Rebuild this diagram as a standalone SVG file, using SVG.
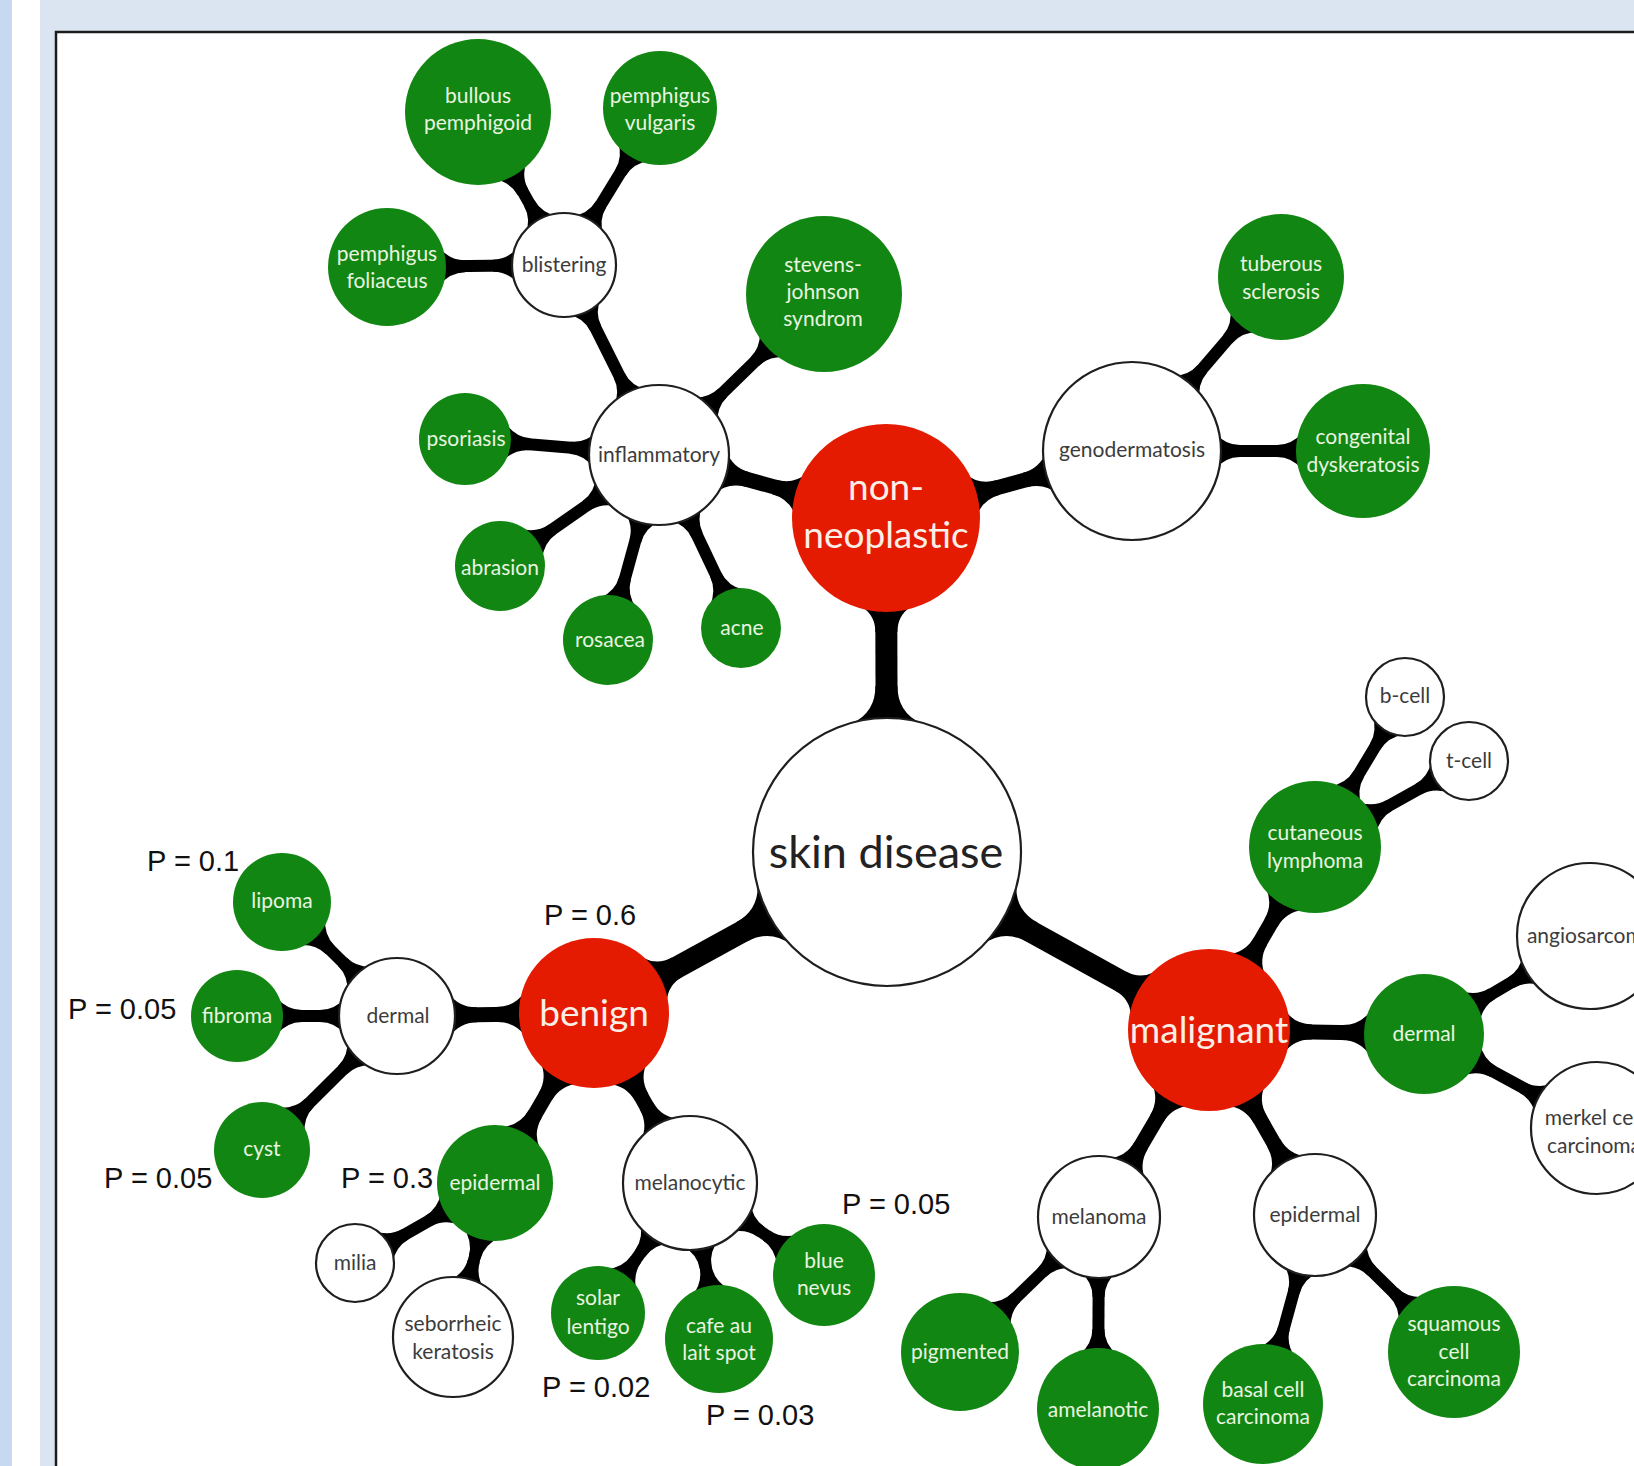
<svg xmlns="http://www.w3.org/2000/svg" width="1634" height="1466" viewBox="0 0 1634 1466">
<defs>
<style>
.w{fill:#fff;stroke:#1e1e1e;stroke-width:2.2}
.g{fill:#128612}
.r{fill:#e41b00}
.l1{stroke:#000;stroke-width:22}
.l2{stroke:#000;stroke-width:15}
.l3{stroke:#000;stroke-width:12}
text{font-family:Lato,"Open Sans",sans-serif;text-anchor:middle}
.tw{font-size:21px;fill:#3c3c3c}
.tg{font-size:21px;fill:#e8f5e0}
.tr{font-size:37px;fill:#fbeee6}
.ts{font-size:45px;fill:#222}
.p{font-family:"Liberation Sans",Arial,sans-serif;font-size:29px;fill:#111;text-anchor:start}
</style>
<path id="fS" fill="#000" d="M-24,-34 L-5,-34 Q6,-11 32,-11 L32,11 Q6,11 -5,34 L-24,34Z"/>
<path id="fR" fill="#000" d="M-22,-24 L-5,-24 Q4,-11 20,-11 L20,11 Q4,11 -5,24 L-22,24Z"/>
<path id="f2" fill="#000" d="M-20,-22 L-6,-22 Q4,-7.5 22,-7.5 L22,7.5 Q4,7.5 -6,22 L-20,22Z"/>
<path id="f3" fill="#000" d="M-20,-19 L-7,-19 Q4,-6 19,-6 L19,6 Q4,6 -7,19 L-20,19Z"/>
</defs>

<rect x="0" y="0" width="1634" height="1466" fill="#dbe5f1"/>
<rect x="0" y="0" width="12" height="1466" fill="#c6d9f0"/>
<rect x="12" y="0" width="28" height="1466" fill="#ffffff"/>
<rect x="56" y="32" width="1640" height="1500" fill="#ffffff" stroke="#1c1c1c" stroke-width="2.5"/>

<g id="connectors">
<line class="l1" x1="887" y1="852" x2="886" y2="518"/>
<line class="l1" x1="887" y1="852" x2="594" y2="1013"/>
<line class="l1" x1="887" y1="852" x2="1209" y2="1030"/>
<line class="l2" x1="886" y1="518" x2="659" y2="455"/>
<line class="l2" x1="886" y1="518" x2="1132" y2="451"/>
<line class="l2" x1="594" y1="1013" x2="397" y2="1016"/>
<line class="l2" x1="594" y1="1013" x2="495" y2="1183"/>
<line class="l2" x1="594" y1="1013" x2="690" y2="1183"/>
<line class="l2" x1="1209" y1="1030" x2="1315" y2="847"/>
<line class="l2" x1="1209" y1="1030" x2="1424" y2="1034"/>
<line class="l2" x1="1209" y1="1030" x2="1099" y2="1217"/>
<line class="l2" x1="1209" y1="1030" x2="1315" y2="1215"/>
<line class="l3" x1="659" y1="455" x2="564" y2="265"/>
<line class="l3" x1="659" y1="455" x2="824" y2="294"/>
<line class="l3" x1="659" y1="455" x2="465" y2="439"/>
<line class="l3" x1="659" y1="455" x2="500" y2="566"/>
<line class="l3" x1="659" y1="455" x2="608" y2="640"/>
<line class="l3" x1="659" y1="455" x2="741" y2="628"/>
<line class="l3" x1="564" y1="265" x2="478" y2="112"/>
<line class="l3" x1="564" y1="265" x2="660" y2="108"/>
<line class="l3" x1="564" y1="265" x2="387" y2="267"/>
<line class="l3" x1="1132" y1="451" x2="1281" y2="277"/>
<line class="l3" x1="1132" y1="451" x2="1363" y2="451"/>
<line class="l3" x1="1315" y1="847" x2="1405" y2="697"/>
<line class="l3" x1="1315" y1="847" x2="1469" y2="761"/>
<line class="l3" x1="1424" y1="1034" x2="1590" y2="936"/>
<line class="l3" x1="1424" y1="1034" x2="1597" y2="1128"/>
<line class="l3" x1="1099" y1="1217" x2="960" y2="1352"/>
<line class="l3" x1="1099" y1="1217" x2="1098" y2="1409"/>
<line class="l3" x1="1315" y1="1215" x2="1263" y2="1404"/>
<line class="l3" x1="1315" y1="1215" x2="1454" y2="1352"/>
<line class="l3" x1="397" y1="1016" x2="282" y2="902"/>
<line class="l3" x1="397" y1="1016" x2="237" y2="1016"/>
<line class="l3" x1="397" y1="1016" x2="262" y2="1150"/>
<line class="l3" x1="495" y1="1183" x2="355" y2="1263"/>
<line class="l3" x1="495" y1="1183" x2="453" y2="1337"/>
<line class="l3" x1="690" y1="1183" x2="598" y2="1313"/>
<line class="l3" x1="690" y1="1183" x2="719" y2="1339"/>
<line class="l3" x1="690" y1="1183" x2="824" y2="1275"/>

<use href="#fS" transform="translate(887,852) rotate(-90.2) translate(134,0)"/>
<use href="#fR" transform="translate(886,518) rotate(89.8) translate(94,0)"/>
<use href="#fS" transform="translate(887,852) rotate(151.2) translate(134,0)"/>
<use href="#fR" transform="translate(594,1013) rotate(-28.8) translate(75,0)"/>
<use href="#fS" transform="translate(887,852) rotate(28.9) translate(134,0)"/>
<use href="#fR" transform="translate(1209,1030) rotate(-151.1) translate(81,0)"/>

<use href="#f2" transform="translate(886,518) rotate(-164.5) translate(94,0)"/>
<use href="#f2" transform="translate(659,455) rotate(15.5) translate(70,0)"/>
<use href="#f2" transform="translate(886,518) rotate(-15.2) translate(94,0)"/>
<use href="#f2" transform="translate(1132,451) rotate(164.8) translate(89,0)"/>
<use href="#f2" transform="translate(594,1013) rotate(179.1) translate(75,0)"/>
<use href="#f2" transform="translate(397,1016) rotate(-0.9) translate(58,0)"/>
<use href="#f2" transform="translate(594,1013) rotate(120.2) translate(75,0)"/>
<use href="#f2" transform="translate(495,1183) rotate(-59.8) translate(58,0)"/>
<use href="#f2" transform="translate(594,1013) rotate(60.5) translate(75,0)"/>
<use href="#f2" transform="translate(690,1183) rotate(-119.5) translate(67,0)"/>
<use href="#f2" transform="translate(1209,1030) rotate(-59.9) translate(81,0)"/>
<use href="#f2" transform="translate(1315,847) rotate(120.1) translate(66,0)"/>
<use href="#f2" transform="translate(1209,1030) rotate(1.1) translate(81,0)"/>
<use href="#f2" transform="translate(1424,1034) rotate(-178.9) translate(60,0)"/>
<use href="#f2" transform="translate(1209,1030) rotate(120.5) translate(81,0)"/>
<use href="#f2" transform="translate(1099,1217) rotate(-59.5) translate(61,0)"/>
<use href="#f2" transform="translate(1209,1030) rotate(60.2) translate(81,0)"/>
<use href="#f2" transform="translate(1315,1215) rotate(-119.8) translate(61,0)"/>

<use href="#f3" transform="translate(659,455) rotate(-116.6) translate(70,0)"/>
<use href="#f3" transform="translate(564,265) rotate(63.4) translate(52,0)"/>
<use href="#f3" transform="translate(659,455) rotate(-44.3) translate(70,0)"/>
<use href="#f3" transform="translate(824,294) rotate(135.7) translate(78,0)"/>
<use href="#f3" transform="translate(659,455) rotate(-175.3) translate(70,0)"/>
<use href="#f3" transform="translate(465,439) rotate(4.7) translate(46,0)"/>
<use href="#f3" transform="translate(659,455) rotate(145.1) translate(70,0)"/>
<use href="#f3" transform="translate(500,566) rotate(-34.9) translate(45,0)"/>
<use href="#f3" transform="translate(659,455) rotate(105.4) translate(70,0)"/>
<use href="#f3" transform="translate(608,640) rotate(-74.6) translate(45,0)"/>
<use href="#f3" transform="translate(659,455) rotate(64.6) translate(70,0)"/>
<use href="#f3" transform="translate(741,628) rotate(-115.4) translate(40,0)"/>
<use href="#f3" transform="translate(564,265) rotate(-119.3) translate(52,0)"/>
<use href="#f3" transform="translate(478,112) rotate(60.7) translate(73,0)"/>
<use href="#f3" transform="translate(564,265) rotate(-58.6) translate(52,0)"/>
<use href="#f3" transform="translate(660,108) rotate(121.4) translate(57,0)"/>
<use href="#f3" transform="translate(564,265) rotate(179.4) translate(52,0)"/>
<use href="#f3" transform="translate(387,267) rotate(-0.6) translate(59,0)"/>
<use href="#f3" transform="translate(1132,451) rotate(-49.4) translate(89,0)"/>
<use href="#f3" transform="translate(1281,277) rotate(130.6) translate(63,0)"/>
<use href="#f3" transform="translate(1132,451) rotate(0) translate(89,0)"/>
<use href="#f3" transform="translate(1363,451) rotate(180) translate(67,0)"/>
<use href="#f3" transform="translate(1315,847) rotate(-59) translate(66,0)"/>
<use href="#f3" transform="translate(1405,697) rotate(121) translate(39,0)"/>
<use href="#f3" transform="translate(1315,847) rotate(-29.2) translate(66,0)"/>
<use href="#f3" transform="translate(1469,761) rotate(150.8) translate(39,0)"/>
<use href="#f3" transform="translate(1424,1034) rotate(-30.6) translate(60,0)"/>
<use href="#f3" transform="translate(1590,936) rotate(149.4) translate(73,0)"/>
<use href="#f3" transform="translate(1424,1034) rotate(28.5) translate(60,0)"/>
<use href="#f3" transform="translate(1597,1128) rotate(-151.5) translate(66,0)"/>
<use href="#f3" transform="translate(1099,1217) rotate(135.8) translate(61,0)"/>
<use href="#f3" transform="translate(960,1352) rotate(-44.2) translate(59,0)"/>
<use href="#f3" transform="translate(1099,1217) rotate(90.3) translate(61,0)"/>
<use href="#f3" transform="translate(1098,1409) rotate(-89.7) translate(61,0)"/>
<use href="#f3" transform="translate(1315,1215) rotate(105.4) translate(61,0)"/>
<use href="#f3" transform="translate(1263,1404) rotate(-74.6) translate(60,0)"/>
<use href="#f3" transform="translate(1315,1215) rotate(44.6) translate(61,0)"/>
<use href="#f3" transform="translate(1454,1352) rotate(-135.4) translate(66,0)"/>
<use href="#f3" transform="translate(397,1016) rotate(-135.2) translate(58,0)"/>
<use href="#f3" transform="translate(282,902) rotate(44.8) translate(49,0)"/>
<use href="#f3" transform="translate(397,1016) rotate(180) translate(58,0)"/>
<use href="#f3" transform="translate(237,1016) rotate(0) translate(46,0)"/>
<use href="#f3" transform="translate(397,1016) rotate(135.2) translate(58,0)"/>
<use href="#f3" transform="translate(262,1150) rotate(-44.8) translate(48,0)"/>
<use href="#f3" transform="translate(495,1183) rotate(150.3) translate(58,0)"/>
<use href="#f3" transform="translate(355,1263) rotate(-29.7) translate(39,0)"/>
<use href="#f3" transform="translate(495,1183) rotate(105.3) translate(58,0)"/>
<use href="#f3" transform="translate(453,1337) rotate(-74.7) translate(60,0)"/>
<use href="#f3" transform="translate(690,1183) rotate(125.3) translate(67,0)"/>
<use href="#f3" transform="translate(598,1313) rotate(-54.7) translate(47,0)"/>
<use href="#f3" transform="translate(690,1183) rotate(79.5) translate(67,0)"/>
<use href="#f3" transform="translate(719,1339) rotate(-100.5) translate(54,0)"/>
<use href="#f3" transform="translate(690,1183) rotate(34.5) translate(67,0)"/>
<use href="#f3" transform="translate(824,1275) rotate(-145.5) translate(51,0)"/>
</g>

<g id="n-skin-disease"><circle class="w" cx="887" cy="852" r="134"/><text class="ts" x="886" y="868">skin disease</text></g>
<g id="n-non-neoplastic"><circle class="r" cx="886" cy="518" r="94"/><text class="tr" x="886" y="500">non-</text><text class="tr" x="886" y="548">neoplastic</text></g>
<g id="n-benign"><circle class="r" cx="594" cy="1013" r="75"/><text class="tr" x="594" y="1026">benign</text></g>
<g id="n-malignant"><circle class="r" cx="1209" cy="1030" r="81"/><text class="tr" x="1209" y="1043">malignant</text></g>

<g id="n-inflammatory"><circle class="w" cx="659" cy="455" r="70"/><text class="tw" x="659" y="462">inflammatory</text></g>
<g id="n-blistering"><circle class="w" cx="564" cy="265" r="52"/><text class="tw" x="564" y="272">blistering</text></g>
<g id="n-bullous-pemphigoid"><circle class="g" cx="478" cy="112" r="73"/><text class="tg" x="478" y="103">bullous</text><text class="tg" x="478" y="130">pemphigoid</text></g>
<g id="n-pemphigus-vulgaris"><circle class="g" cx="660" cy="108" r="57"/><text class="tg" x="660" y="103">pemphigus</text><text class="tg" x="660" y="130">vulgaris</text></g>
<g id="n-pemphigus-foliaceus"><circle class="g" cx="387" cy="267" r="59"/><text class="tg" x="387" y="261">pemphigus</text><text class="tg" x="387" y="288">foliaceus</text></g>
<g id="n-stevens-johnson"><circle class="g" cx="824" cy="294" r="78"/><text class="tg" x="823" y="272">stevens-</text><text class="tg" x="823" y="299">johnson</text><text class="tg" x="823" y="326">syndrom</text></g>
<g id="n-psoriasis"><circle class="g" cx="465" cy="439" r="46"/><text class="tg" x="466" y="446">psoriasis</text></g>
<g id="n-abrasion"><circle class="g" cx="500" cy="566" r="45"/><text class="tg" x="500" y="575">abrasion</text></g>
<g id="n-rosacea"><circle class="g" cx="608" cy="640" r="45"/><text class="tg" x="610" y="647">rosacea</text></g>
<g id="n-acne"><circle class="g" cx="741" cy="628" r="40"/><text class="tg" x="742" y="635">acne</text></g>

<g id="n-genodermatosis"><circle class="w" cx="1132" cy="451" r="89"/><text class="tw" x="1132" y="457">genodermatosis</text></g>
<g id="n-tuberous-sclerosis"><circle class="g" cx="1281" cy="277" r="63"/><text class="tg" x="1281" y="271">tuberous</text><text class="tg" x="1281" y="299">sclerosis</text></g>
<g id="n-congenital-dyskeratosis"><circle class="g" cx="1363" cy="451" r="67"/><text class="tg" x="1363" y="444">congenital</text><text class="tg" x="1363" y="472">dyskeratosis</text></g>

<g id="n-cutaneous-lymphoma"><circle class="g" cx="1315" cy="847" r="66"/><text class="tg" x="1315" y="840">cutaneous</text><text class="tg" x="1315" y="868">lymphoma</text></g>
<g id="n-b-cell"><circle class="w" cx="1405" cy="697" r="39"/><text class="tw" x="1405" y="703">b-cell</text></g>
<g id="n-t-cell"><circle class="w" cx="1469" cy="761" r="39"/><text class="tw" x="1469" y="768">t-cell</text></g>
<g id="n-dermal-malignant"><circle class="g" cx="1424" cy="1034" r="60"/><text class="tg" x="1424" y="1041">dermal</text></g>
<g id="n-angiosarcoma"><circle class="w" cx="1590" cy="936" r="73"/><text class="tw" x="1590" y="943">angiosarcoma</text></g>
<g id="n-merkel-cell-carcinoma"><circle class="w" cx="1597" cy="1128" r="66"/><text class="tw" x="1594" y="1125">merkel cell</text><text class="tw" x="1594" y="1153">carcinoma</text></g>
<g id="n-melanoma"><circle class="w" cx="1099" cy="1217" r="61"/><text class="tw" x="1099" y="1224">melanoma</text></g>
<g id="n-epidermal-malignant"><circle class="w" cx="1315" cy="1215" r="61"/><text class="tw" x="1315" y="1222">epidermal</text></g>
<g id="n-pigmented"><circle class="g" cx="960" cy="1352" r="59"/><text class="tg" x="960" y="1359">pigmented</text></g>
<g id="n-amelanotic"><circle class="g" cx="1098" cy="1409" r="61"/><text class="tg" x="1098" y="1417">amelanotic</text></g>
<g id="n-basal-cell-carcinoma"><circle class="g" cx="1263" cy="1404" r="60"/><text class="tg" x="1263" y="1397">basal cell</text><text class="tg" x="1263" y="1424">carcinoma</text></g>
<g id="n-squamous-cell-carcinoma"><circle class="g" cx="1454" cy="1352" r="66"/><text class="tg" x="1454" y="1331">squamous</text><text class="tg" x="1454" y="1359">cell</text><text class="tg" x="1454" y="1386">carcinoma</text></g>

<g id="n-dermal-benign"><circle class="w" cx="397" cy="1016" r="58"/><text class="tw" x="398" y="1023">dermal</text></g>
<g id="n-lipoma"><circle class="g" cx="282" cy="902" r="49"/><text class="tg" x="282" y="908">lipoma</text></g>
<g id="n-fibroma"><circle class="g" cx="237" cy="1016" r="46"/><text class="tg" x="237" y="1023">fibroma</text></g>
<g id="n-cyst"><circle class="g" cx="262" cy="1150" r="48"/><text class="tg" x="262" y="1156">cyst</text></g>
<g id="n-epidermal-benign"><circle class="g" cx="495" cy="1183" r="58"/><text class="tg" x="495" y="1190">epidermal</text></g>
<g id="n-milia"><circle class="w" cx="355" cy="1263" r="39"/><text class="tw" x="355" y="1270">milia</text></g>
<g id="n-seborrheic-keratosis"><circle class="w" cx="453" cy="1337" r="60"/><text class="tw" x="453" y="1331">seborrheic</text><text class="tw" x="453" y="1359">keratosis</text></g>
<g id="n-melanocytic"><circle class="w" cx="690" cy="1183" r="67"/><text class="tw" x="690" y="1190">melanocytic</text></g>
<g id="n-solar-lentigo"><circle class="g" cx="598" cy="1313" r="47"/><text class="tg" x="598" y="1305">solar</text><text class="tg" x="598" y="1334">lentigo</text></g>
<g id="n-cafe-au-lait-spot"><circle class="g" cx="719" cy="1339" r="54"/><text class="tg" x="719" y="1333">cafe au</text><text class="tg" x="719" y="1360">lait spot</text></g>
<g id="n-blue-nevus"><circle class="g" cx="824" cy="1275" r="51"/><text class="tg" x="824" y="1268">blue</text><text class="tg" x="824" y="1295">nevus</text></g>

<g id="p-labels">
<text class="p" x="147" y="871">P = 0.1</text>
<text class="p" x="544" y="925">P = 0.6</text>
<text class="p" x="68" y="1019">P = 0.05</text>
<text class="p" x="104" y="1188">P = 0.05</text>
<text class="p" x="341" y="1188">P = 0.3</text>
<text class="p" x="842" y="1214">P = 0.05</text>
<text class="p" x="542" y="1397">P = 0.02</text>
<text class="p" x="706" y="1425">P = 0.03</text>
</g>
</svg>
